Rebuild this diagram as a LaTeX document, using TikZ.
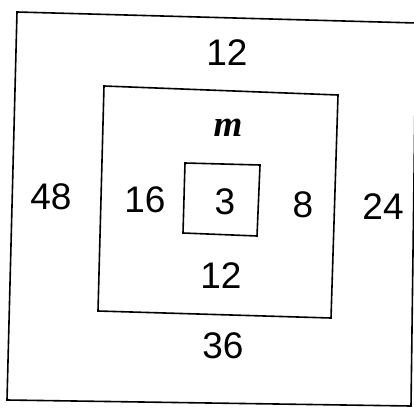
\documentclass[tikz,border=0pt]{standalone}
\usepackage{fontspec}
\setmainfont{Liberation Sans}
\newfontfamily\serifit{Liberation Serif}
\begin{document}
\begin{tikzpicture}[x=1pt,y=-1pt,
  frame/.style={draw=black,line width=1.6pt,line join=miter},
  lab/.style={font=\fontsize{37}{37}\selectfont,inner sep=0pt,anchor=center}]
\useasboundingbox (0,0) rectangle (414,409);
\begin{scope}
\clip (0,0) rectangle (414,409);
% outer square
\draw[frame] (17,12) -- (416,23) -- (411,406) -- (7,400) -- cycle;
% middle square
\draw[frame] (104,86) -- (338,95) -- (331,318) -- (98,311) -- cycle;
% inner square
\draw[frame] (185,163) -- (260,165) -- (257,236) -- (183,233) -- cycle;
\end{scope}
\node[lab] (t12) at (227,53) {12};
\node[lab] (m) at (228,128) {\serifit\itshape\bfseries m};
\node[lab] (n48) at (51,197) {48};
\node[lab] (n16) at (145,200) {16};
\node[lab] (n3) at (225,202) {3};
\node[lab] (n8) at (303,205) {8};
\node[lab] (n24) at (383,207) {24};
\node[lab] (b12) at (221,276) {12};
\node[lab] (n36) at (223,346) {36};
\end{tikzpicture}
\end{document}
